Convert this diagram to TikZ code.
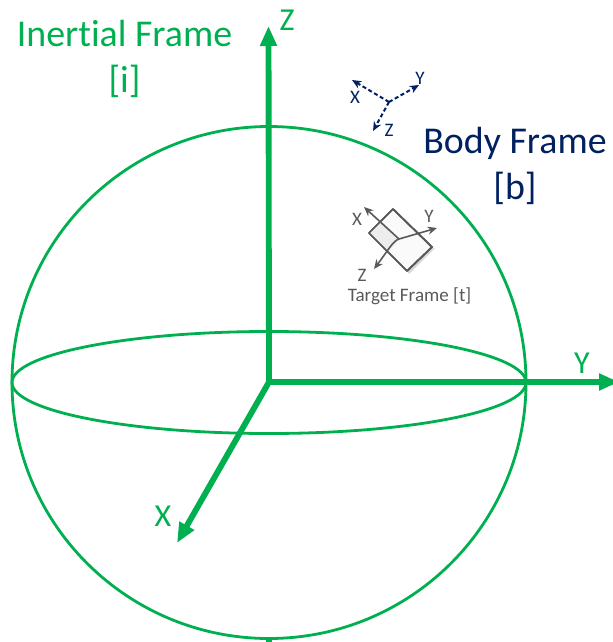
\documentclass[tikz,border=0pt]{standalone}
\usepackage{fontspec}
\setmainfont[Ligatures=CommonOff]{Carlito}
\usepackage{tikz}
\usetikzlibrary{arrows.meta,positioning,calc}
\definecolor{frameGreen}{HTML}{00B050}
\definecolor{frameNavy}{HTML}{002060}
\definecolor{frameGrey}{HTML}{595959}

\begin{document}
\begin{tikzpicture}[
    x=0.75pt, y=-0.75pt,
    axis/.style={-{Triangle[length=15pt,width=12pt]}, frameGreen, line width=4.4pt},
    rim/.style={frameGreen, line width=2.1pt},
    big/.style={font=\fontsize{28.4}{35}\selectfont, align=center, inner sep=0pt},
    lbl/.style={font=\fontsize{24}{28}\selectfont, text=frameGreen, inner sep=0pt},
    small/.style={font=\fontsize{14.3}{17}\selectfont, inner sep=0pt},
    bodyaxis/.style={-{Stealth[length=7pt,width=6pt]}, frameNavy, line width=1.5pt, dash pattern=on 3pt off 2pt},
    tgtaxis/.style={-{Stealth[length=7pt,width=6pt]}, frameGrey, line width=1.2pt},
    plate/.style={draw=frameGrey, line width=1.3pt, line join=round},
  ]
  \useasboundingbox (0,0) rectangle (613,642);

  % ---------------- inertial sphere
  \coordinate (ctr) at (269,382.5);
  \coordinate (south) at (269,638);
  \coordinate (southEnd) at (269,642);
  \draw[rim] (ctr) circle [x radius=257, y radius=-256];
  \draw[rim] (ctr) ellipse [x radius=257, y radius=-51];
  \draw[frameGreen, line width=4.4pt] (south) -- (southEnd);

  % ---------------- inertial axes
  \coordinate (zTip) at (268.5,26);
  \coordinate (yTip) at (619,382);
  \coordinate (xTip) at (177,543);
  \coordinate (org) at (269,382);
  \draw[axis] (org) -- (zTip);
  \draw[axis] (org) -- (yTip);
  \draw[axis] (org) -- (xTip);
  \node[lbl] (zLbl) at (287,20) {Z};
  \node[lbl] (yLbl) at (582,363) {Y};
  \node[lbl] (xLbl) at (163,516) {X};
  \node[big, text=frameGreen] (inertial) at (124.5,59) {Inertial Frame\\{}[i]};

  % ---------------- body frame
  \coordinate (bOrg) at (389,102);
  \coordinate (bX) at (352,80);
  \coordinate (bY) at (419,85);
  \coordinate (bZ) at (373,131);
  \draw[bodyaxis] (bOrg) -- (bX);
  \draw[bodyaxis] (bOrg) -- (bY);
  \draw[bodyaxis] (bOrg) -- (bZ);
  \node[small, text=frameNavy] (bXLbl) at (355,97) {X};
  \node[small, text=frameNavy] (bYLbl) at (420,78) {Y};
  \node[small, text=frameNavy] (bZLbl) at (389,130) {Z};
  \node[big, text=frameNavy] (body) at (515,166) {Body Frame\\{}[b]};

  % ---------------- target frame
  \coordinate (pTop) at (393,209);
  \coordinate (pRight) at (432,247);
  \coordinate (pBottom) at (407,271);
  \coordinate (pLeft) at (369,233);
  \coordinate (tOrg) at (399,239);
  \coordinate (tEdge) at (381,221);
  \coordinate (tFold) at (388,252);
  \coordinate (tX) at (364,207);
  \coordinate (tY) at (437,228);
  \coordinate (tZ) at (374,269);
  \fill[black!15] ($(pBottom)+(2,3)$) -- ($(pRight)+(3,1)$) -- (pRight) -- (pBottom) -- cycle;
  \draw[plate, fill=black!2] (pTop) -- (pRight) -- (pBottom) -- (pLeft) -- cycle;
  \fill[black!7] (pLeft) -- (tEdge) -- (tOrg) -- (tFold) -- cycle;
  \draw[plate] (pTop) -- (pRight) -- (pBottom) -- (pLeft) -- cycle;
  \draw[tgtaxis] (tOrg) -- (tX);
  \draw[tgtaxis] (tOrg) -- (tY);
  \draw[tgtaxis] (tOrg) .. controls (393,241) and (389,249) .. (tZ);
  \node[small, text=frameGrey] (tXLbl) at (357,219) {X};
  \node[small, text=frameGrey] (tYLbl) at (429,216) {Y};
  \node[small, text=frameGrey] (tZLbl) at (362,275) {Z};
  \node[small, text=frameGrey] (target) at (409.5,296) {Target Frame [t]};
\end{tikzpicture}
\end{document}
